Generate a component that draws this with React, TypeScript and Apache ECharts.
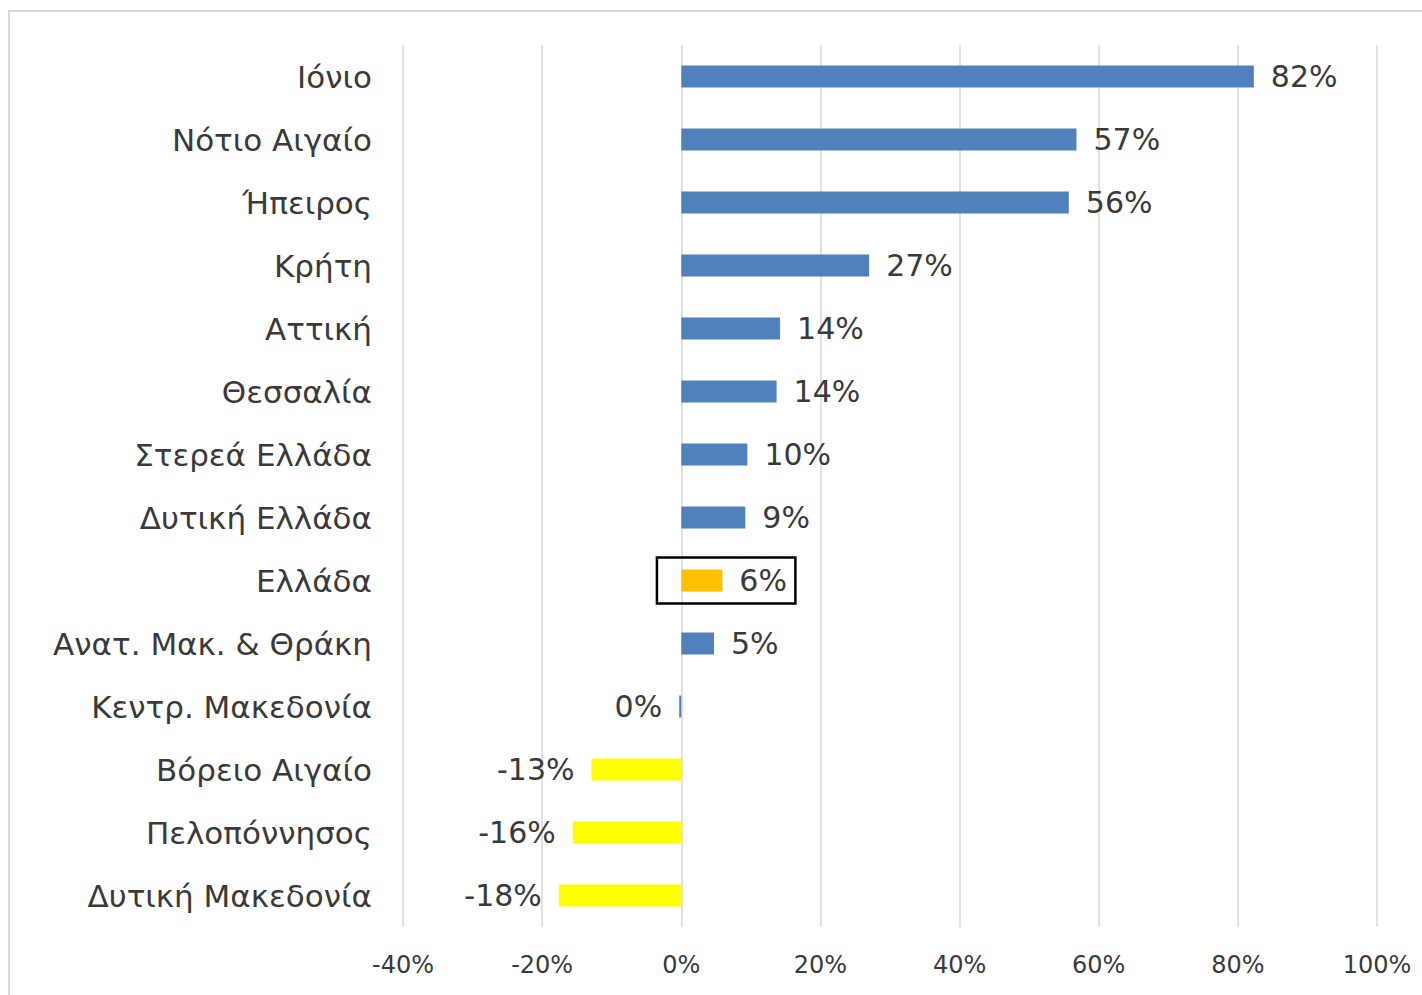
import React, { useEffect, useRef } from "react";
import * as echarts from "echarts";

const categories = [
  "Ιόνιο",
  "Νότιο Αιγαίο",
  "Ήπειρος",
  "Κρήτη",
  "Αττική",
  "Θεσσαλία",
  "Στερεά Ελλάδα",
  "Δυτική Ελλάδα",
  "Ελλάδα",
  "Ανατ. Μακ. & Θράκη",
  "Κεντρ. Μακεδονία",
  "Βόρειο Αιγαίο",
  "Πελοπόννησος",
  "Δυτική Μακεδονία",
];

const values = [82.3, 56.8, 55.7, 27.0, 14.2, 13.7, 9.5, 9.2, 5.9, 4.7, -0.3, -12.9, -15.6, -17.6];

const highlightCategory = "Ελλάδα";
const xTicks = { min: -40, max: 100, interval: 20 };

const BLUE = "#4F81BD";
const YELLOW = "#FFFF00";
const ORANGE = "#FFC000";
const FONT = "'DejaVu Sans', sans-serif";

export default function App() {
  const ref = useRef<HTMLDivElement>(null);

  useEffect(() => {
    if (!ref.current) return;
    const chart = echarts.init(ref.current, null, { renderer: "svg" });
    const data = categories.map((c, i) => {
      const v = values[i];
      const color = c === highlightCategory ? ORANGE : v < -5 ? YELLOW : BLUE;
      return {
        value: v,
        itemStyle: { color },
        label: { position: v < 0 ? "left" : "right" },
      };
    });
    chart.setOption({
      animation: false,
      grid: { left: 403, right: 45, top: 45, bottom: 68, containLabel: false },
      xAxis: {
        type: "value",
        min: xTicks.min,
        max: xTicks.max,
        interval: xTicks.interval,
        axisLine: { show: false },
        axisTick: { show: false },
        splitLine: { lineStyle: { color: "#d9d9d9", width: 1.5 } },
        axisLabel: {
          formatter: (v: number) => `${v}%`,
          color: "#3a3a3a",
          fontFamily: FONT,
          fontSize: 24,
          margin: 26,
        },
      },
      yAxis: {
        type: "category",
        data: categories,
        inverse: true,
        axisLine: { show: false },
        axisTick: { show: false },
        axisLabel: {
          color: "#3a3a3a",
          fontFamily: FONT,
          fontSize: 31,
          margin: 31,
        },
      },
      series: [
        {
          type: "bar",
          data,
          barWidth: 22,
          label: {
            show: true,
            distance: 17,
            color: "#3a3a3a",
            fontFamily: FONT,
            fontSize: 30,
            formatter: (p: any) => `${Math.round(p.value)}%`,
          },
        },
      ],
    });

    const idx = categories.indexOf(highlightCategory);
    const p1 = chart.convertToPixel({ gridIndex: 0 }, [-3.5, idx]);
    const p2 = chart.convertToPixel({ gridIndex: 0 }, [16.4, idx]);
    chart.setOption({
      graphic: [
        {
          type: "rect",
          shape: { x: p1[0], y: p1[1] - 23, width: p2[0] - p1[0], height: 46 },
          style: { fill: "none", stroke: "#000", lineWidth: 2.5 },
          z: 100,
        },
        {
          type: "rect",
          shape: { x: 9, y: 11, width: 1422, height: 990 },
          style: { fill: "none", stroke: "#d9d9d9", lineWidth: 2 },
          z: -1,
        },
      ],
    });

    return () => chart.dispose();
  }, []);

  return (
    <div
      ref={ref}
      style={{ position: "absolute", left: 0, top: 0, width: 1422, height: 995, background: "#fff" }}
    />
  );
}
